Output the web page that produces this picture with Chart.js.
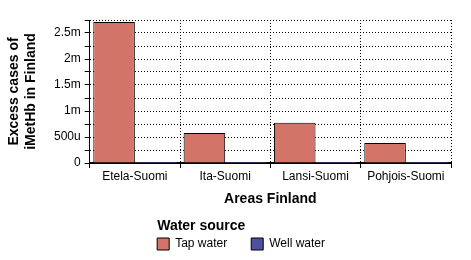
<!DOCTYPE html>
<html>
<head>
<meta charset="utf-8">
<script src="https://cdn.jsdelivr.net/npm/chart.js@4/dist/chart.umd.min.js"></script>
<style>
  html, body { margin: 0; padding: 0; background: #fff; }
  #wrap { width: 471px; height: 260px; }
</style>
</head>
<body>
<div id="wrap"><canvas id="chart"></canvas></div>
<script>
const areas = ['Etela-Suomi', 'Ita-Suomi', 'Lansi-Suomi', 'Pohjois-Suomi'];
const tapWater = [0.00271, 0.000578, 0.000772, 0.000383];
const wellWater = [0.000004, 0.000002, 0.000003, 0.000001];
const tickValues = [0, 0.0005, 0.001, 0.0015, 0.002, 0.0025];
const tickLabels = ['0', '500u', '1m', '1.5m', '2m', '2.5m'];

const FONT = "'Liberation Sans', Arial, sans-serif";

// move legend so it sits where the original one is
const legendShift = {
  id: 'legendShift',
  afterUpdate(chart) {
    const lg = chart.legend;
    const dx = 349 - lg.right;
    lg.left += dx;
    lg.right += dx;
  }
};

new Chart(document.getElementById('chart'), {
  type: 'bar',
  data: {
    labels: areas,
    datasets: [
      { label: 'Tap water', data: tapWater, backgroundColor: '#d27468', borderColor: '#000', borderWidth: 1 },
      { label: 'Well water', data: wellWater, backgroundColor: '#5050a0', borderWidth: 0, minBarLength: 1 }
    ]
  },
  options: {
    responsive: true,
    maintainAspectRatio: false,
    animation: false,
    layout: { padding: { top: 20, right: 20, bottom: 0, left: 5 } },
    datasets: { bar: { categoryPercentage: 0.92, barPercentage: 1 } },
    scales: {
      x: {
        grid: { color: '#000', lineWidth: 1, tickLength: 5, tickColor: '#000', tickBorderDash: [] },
        border: { color: '#000', width: 2, dash: [1, 2] },
        ticks: { color: '#000', font: { family: FONT, size: 12 }, padding: 1 },
        title: { display: true, text: 'Areas Finland', color: '#000', font: { family: FONT, size: 14, weight: 'bold' }, padding: { top: 6, bottom: 2 } }
      },
      y: {
        min: 0,
        max: 0.00275,
        grid: { color: '#000', lineWidth: 1, tickLength: 5, tickColor: '#000', tickBorderDash: [] },
        border: { color: '#000', width: 1, dash: [1, 2] },
        ticks: {
          stepSize: 0.00025,
          autoSkip: false,
          color: '#000',
          font: { family: FONT, size: 12 },
          padding: 4,
          callback: v => {
            const i = tickValues.findIndex(t => Math.abs(t - v) < 1e-9);
            return i >= 0 ? tickLabels[i] : '';
          }
        },
        title: { display: true, text: ['Excess cases of', 'iMetHb in Finland'], color: '#000', font: { family: FONT, size: 14, weight: 'bold', lineHeight: 1.25 }, padding: { top: 0, bottom: 10 } }
      }
    },
    plugins: {
      tooltip: { enabled: false },
      legend: {
        position: 'bottom',
        align: 'end',
        title: { display: true, text: 'Water source', position: 'start', color: '#000', font: { family: FONT, size: 14, weight: 'bold' }, padding: { top: 10, bottom: -22 } },
        labels: {
          color: '#000',
          font: { family: FONT, size: 12 },
          boxWidth: 12,
          boxHeight: 12,
          padding: 24,
          generateLabels: chart => Chart.defaults.plugins.legend.labels.generateLabels(chart)
            .map(l => ({ ...l, strokeStyle: '#000', lineWidth: 1 }))
        }
      }
    }
  },
  plugins: [legendShift]
});
</script>
</body>
</html>
